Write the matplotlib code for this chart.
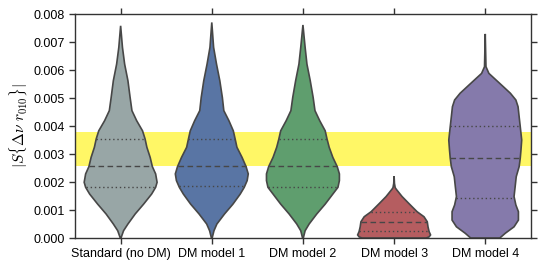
import numpy as np
import matplotlib.pyplot as plt

plt.rcParams['font.family'] = ['Liberation Sans', 'DejaVu Sans']
plt.rcParams['mathtext.fontset'] = 'cm'

labels = ["Standard (no DM)", "DM model 1", "DM model 2", "DM model 3", "DM model 4"]
colors = ["#98a6a6", "#5975a4", "#5f9e6e", "#b55d60", "#857aab"]

# violin outlines: value (x1e-3) and relative half width
y_std = [7.58, 6.81, 6.21, 5.62, 5.02, 4.55, 4.19, 3.83, 3.54, 3.24, 2.88, 2.55, 2.29, 1.99, 1.81, 1.57, 1.21, 0.86, 0.50, 0.26, 0.0]
w_std = [0.0, 0.05, 0.11, 0.20, 0.26, 0.31, 0.44, 0.60, 0.67, 0.72, 0.81, 0.87, 0.96, 1.0, 0.96, 0.85, 0.63, 0.40, 0.20, 0.08, 0.01]

y_dm1 = [7.70, 6.81, 6.21, 5.62, 5.02, 4.55, 4.19, 3.83, 3.54, 3.24, 2.88, 2.55, 2.29, 2.05, 1.81, 1.57, 1.21, 0.86, 0.50, 0.26, 0.0]
w_dm1 = [0.0, 0.05, 0.13, 0.22, 0.29, 0.33, 0.47, 0.59, 0.64, 0.69, 0.83, 0.94, 1.0, 0.97, 0.89, 0.78, 0.58, 0.35, 0.14, 0.06, 0.01]

y_dm2 = [7.61, 6.81, 6.21, 5.62, 5.02, 4.55, 4.19, 3.83, 3.54, 3.24, 2.88, 2.55, 2.29, 2.05, 1.81, 1.57, 1.21, 0.86, 0.50, 0.26, 0.0]
w_dm2 = [0.0, 0.06, 0.11, 0.20, 0.28, 0.33, 0.46, 0.61, 0.66, 0.72, 0.82, 0.94, 1.0, 1.0, 0.96, 0.82, 0.61, 0.38, 0.17, 0.06, 0.01]

y_dm3 = [2.21, 1.95, 1.80, 1.74, 1.48, 1.24, 0.94, 0.76, 0.58, 0.40, 0.23, 0.11, 0.04, 0.0]
w_dm3 = [0.0, 0.01, 0.03, 0.06, 0.22, 0.40, 0.63, 0.82, 0.91, 0.93, 0.96, 1.0, 0.96, 0.88]

y_dm4 = [7.29, 6.12, 5.88, 5.64, 5.40, 5.17, 4.93, 4.69, 4.33, 3.98, 3.50, 3.14, 2.85, 2.55, 2.19, 1.83, 1.48, 1.18, 0.94, 0.64, 0.40, 0.17, 0.0]
w_dm4 = [0.0, 0.02, 0.10, 0.30, 0.50, 0.69, 0.84, 0.90, 0.93, 0.96, 1.0, 0.98, 0.96, 0.93, 0.85, 0.82, 0.79, 0.84, 0.91, 0.91, 0.79, 0.55, 0.40]

# quartiles (x1e-3): lower, median, upper
q_std = [1.81, 2.56, 3.54]
q_dm1 = [1.85, 2.56, 3.54]
q_dm2 = [1.83, 2.57, 3.54]
q_dm3 = [0.26, 0.58, 0.93]
q_dm4 = [1.43, 2.85, 4.00]

band = [2.57, 3.79]

profiles = [(y_std, w_std, q_std), (y_dm1, w_dm1, q_dm1), (y_dm2, w_dm2, q_dm2),
            (y_dm3, w_dm3, q_dm3), (y_dm4, w_dm4, q_dm4)]

edge = "#474747"
half = 0.4

fig = plt.figure(figsize=(5.4, 2.7), dpi=100)
ax = fig.add_axes([0.139, 0.1185, 0.844, 0.8295])

ax.axhspan(band[0] * 1e-3, band[1] * 1e-3, color="#fff766", lw=0, zorder=0)

for i, (yy, ww, qq) in enumerate(profiles):
    yy = np.array(yy) * 1e-3
    ww = np.array(ww) * half
    xs = np.concatenate([i - ww, (i + ww)[::-1]])
    ys = np.concatenate([yy, yy[::-1]])
    ax.fill(xs, ys, facecolor=colors[i], edgecolor=edge, lw=1.2, zorder=2)
    for k, q in enumerate(qq):
        w = np.interp(q * 1e-3, yy[::-1], ww[::-1])
        ls = (0, (4, 2.5)) if k == 1 else (0, (1, 2))
        ax.plot([i - w, i + w], [q * 1e-3] * 2, color=edge, lw=1.0, ls=ls, zorder=3)

ax.set_xlim(-0.5, 4.5)
ax.set_ylim(0, 0.008)
ax.set_xticks(range(5))
ax.set_xticklabels(labels)
ax.set_yticks(np.arange(0, 0.0081, 0.001))
ax.yaxis.set_major_formatter(plt.FormatStrFormatter('%.3f'))
ax.tick_params(direction="out", length=4, width=1, color="#333333", labelsize=9,
               top=True, right=True, labeltop=False, labelright=False)
for s in ax.spines.values():
    s.set_color("#333333")
    s.set_linewidth(1)
ax.set_ylabel(r"$|S\{\Delta\nu\ r_{010}\}|$", fontsize=11, labelpad=2)

fig.savefig("out.png", dpi=100)
